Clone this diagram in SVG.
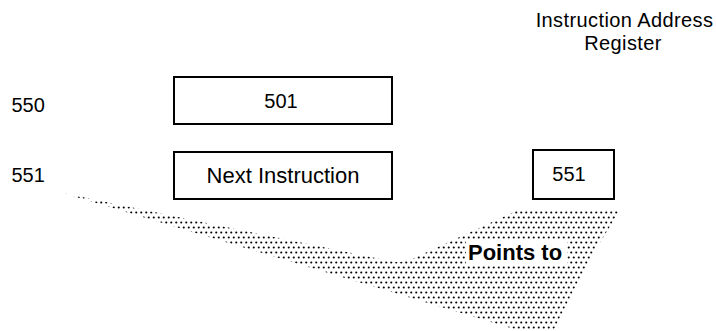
<svg xmlns="http://www.w3.org/2000/svg" width="716" height="331" viewBox="0 0 716 331">
<style>
.t{font-family:"Liberation Sans",Arial,sans-serif;fill:#000}
.box{fill:#fff;stroke:#000;stroke-width:2}
</style>
<defs>
<pattern id="dots" patternUnits="userSpaceOnUse" width="5" height="10">
<circle cx="1.25" cy="2.5" r="1.05" fill="#000"/>
<circle cx="3.75" cy="7.5" r="1.05" fill="#000"/>
</pattern>
</defs>
<rect width="716" height="331" fill="#fff"/>
<g id="connectors">
<path d="M63,193 L390,261 Q401,264 412,259 L516,211 L620,210 L588,262 L553,331 L521,331 Z" fill="url(#dots)"/>
<rect x="466" y="240" width="101" height="24" fill="#fff"/>
<text class="t" x="468" y="260" font-size="22" font-weight="bold">Points to</text>
</g>
<g id="header">
<text class="t" x="624.5" y="27" font-size="20" letter-spacing="0.4" text-anchor="middle">Instruction Address</text>
<text class="t" x="623" y="50" font-size="20" letter-spacing="0.4" text-anchor="middle">Register</text>
</g>
<g id="addr550"><text class="t" x="11.5" y="111.5" font-size="20">550</text></g>
<g id="addr551"><text class="t" x="11.5" y="182" font-size="20">551</text></g>
<g id="cell501">
<rect class="box" x="174" y="77" width="218" height="47"/>
<text class="t" x="281" y="108" font-size="20" text-anchor="middle">501</text>
</g>
<g id="cellNext">
<rect class="box" x="174" y="152" width="218" height="47"/>
<text class="t" x="283" y="183" font-size="22" text-anchor="middle">Next Instruction</text>
</g>
<g id="iar">
<rect class="box" x="533" y="150" width="81" height="49"/>
<text class="t" x="569" y="181" font-size="20" text-anchor="middle">551</text>
</g>
</svg>
